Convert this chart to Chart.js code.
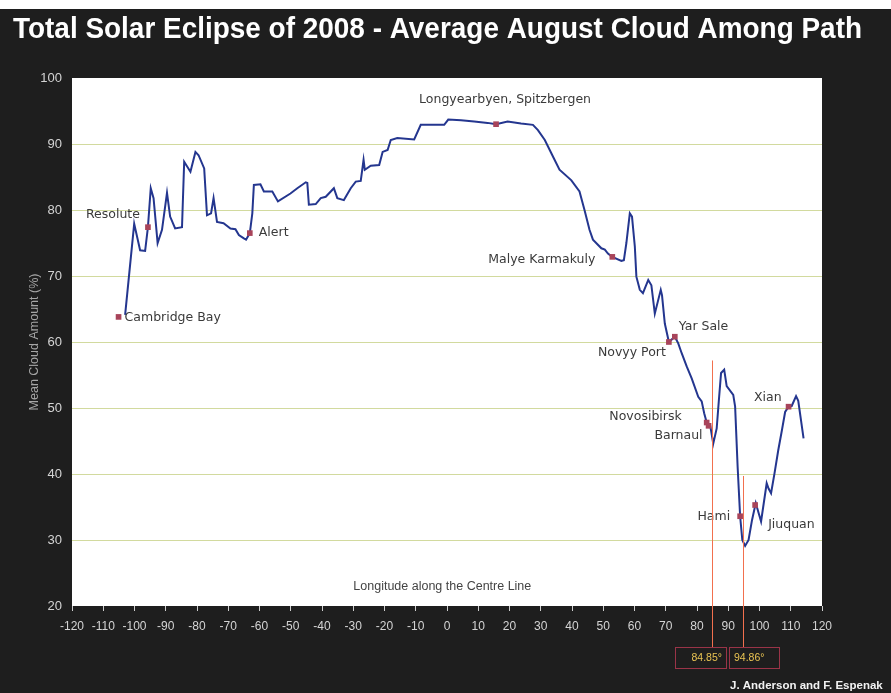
<!DOCTYPE html>
<html>
<head>
<meta charset="utf-8">
<script src="https://cdn.jsdelivr.net/npm/chart.js@4.4.1/dist/chart.umd.min.js"></script>
<style>
  html, body { margin: 0; padding: 0; background: #fff; }
  #panel { position: absolute; left: 0; top: 9px; width: 891px; height: 684px; background: #1e1e1e; }
  #c { position: absolute; left: 0; top: 0; }
</style>
</head>
<body>
<div id="panel"></div>
<canvas id="c" width="891" height="693"></canvas>
<script>
// ── Data ──────────────────────────────────────────────────────────
const lon = [
  -103.0, -100.1, -98.2, -96.6, -95.7, -94.8, -93.9, -92.6, -91.2, -89.6,
  -88.6, -87.0, -84.8, -84.1, -82.1, -80.5, -79.5, -77.7, -76.8, -75.5,
  -74.7, -73.6, -71.5, -69.3, -67.7, -66.6, -65.0, -64.3, -63.1, -62.3,
  -61.8, -59.7, -58.6, -55.9, -54.1, -50.1, -47.9, -45.2, -44.7, -44.2,
  -42.0, -40.4, -38.8, -36.2, -35.1, -33.0, -30.8, -29.2, -27.6, -26.7,
  -26.3, -24.4, -21.7, -20.6, -19.0, -18.0, -15.9, -10.5, -8.4, -0.9,
  0.4, 4.5, 8.7, 13.0, 15.7, 19.4, 23.7, 27.5, 29.1, 31.3,
  33.9, 36.0, 39.8, 42.4, 44.0, 45.6, 46.7, 49.4, 50.5, 51.5,
  52.9, 55.8, 56.6, 57.4, 58.5, 59.2, 60.1, 60.6, 61.7, 62.7,
  64.4, 65.4, 66.5, 68.4, 68.8, 69.7, 71.0, 72.9, 74.0, 75.1,
  76.7, 78.3, 80.4, 81.5, 82.3, 83.1, 84.2, 85.2, 86.3, 87.0,
  87.7, 88.7, 89.5, 91.6, 92.2, 93.0, 93.8, 94.5, 95.4, 96.5,
  97.6, 98.8, 100.5, 102.3, 102.9, 103.7, 104.8, 106.0, 107.2, 108.2,
  109.3, 110.3, 111.7, 112.4, 114.1
]
const cloud = [
  64.1, 77.9, 73.9, 73.8, 77.4, 83.3, 81.8, 75.0, 77.0, 82.6,
  79.0, 77.2, 77.4, 87.3, 85.8, 88.8, 88.3, 86.3, 79.2, 79.5,
  81.8, 78.2, 78.0, 77.2, 77.1, 76.2, 75.7, 75.5, 76.5, 79.5,
  83.8, 83.9, 82.8, 82.8, 81.3, 82.5, 83.3, 84.2, 84.1, 80.8,
  80.9, 81.8, 82.0, 83.3, 81.8, 81.5, 83.3, 84.3, 84.4, 87.6,
  86.1, 86.7, 86.8, 88.8, 89.1, 90.6, 90.9, 90.7, 92.9, 92.9,
  93.7, 93.6, 93.4, 93.2, 93.0, 93.4, 93.1, 92.9, 92.1, 90.6,
  88.1, 86.1, 84.5, 82.8, 80.0, 77.0, 75.5, 74.2, 74.0, 73.4,
  72.9, 72.3, 72.4, 75.0, 79.5, 79.0, 74.5, 69.9, 67.9, 67.4,
  69.4, 68.6, 64.3, 67.9, 67.1, 62.8, 60.0, 60.8, 59.8, 58.3,
  56.3, 54.5, 51.7, 51.0, 49.2, 47.8, 47.4, 44.6, 46.9, 51.2,
  55.3, 55.8, 53.3, 52.0, 50.2, 41.1, 33.6, 30.0, 29.1, 30.0,
  33.0, 35.6, 32.8, 38.6, 37.8, 37.1, 40.1, 43.6, 46.7, 49.4,
  50.2, 50.3, 51.8, 51.1, 45.4
]

const cityNames = ["Cambridge Bay", "Resolute", "Alert", "Longyearbyen, Spitzbergen",
  "Malye Karmakuly", "Novyy Port", "Yar Sale", "Novosibirsk", "Barnaul",
  "Hami", "Jiuquan", "Xian"]
const cityLon   = [-105.1, -95.7, -63.1, 15.7, 52.9, 71.0, 72.9, 83.1, 83.7, 93.8, 98.6, 109.3]
const cityCloud = [63.8, 77.4, 76.5, 93.0, 72.9, 60.0, 60.8, 47.8, 47.3, 33.6, 35.3, 50.2]

const totalityLon = [84.85, 94.86]
const totalityTop = [57.2, 39.7]
const totalityText = ["84.85°", "94.86°"]

const yTicks = [20, 30, 40, 50, 60, 70, 80, 90, 100]
const xTicks = [-120, -110, -100, -90, -80, -70, -60, -50, -40, -30, -20, -10,
  0, 10, 20, 30, 40, 50, 60, 70, 80, 90, 100, 110, 120]

// label placement relative to each marker: [dx, dy, align]
const labelPos = [[6, 1, "left"], [-8, -12, "right"], [9, 0, "left"], [9, -24, "center"],
  [-17, 3, "right"], [-3, 11, "right"], [4, -10, "left"], [-25, -6, "right"],
  [-6, 10, "right"], [-10, 1, "right"], [13, 20, "left"], [-7, -9, "right"]]

const TITLE = "Total Solar Eclipse of 2008 - Average August Cloud Among Path"
const CREDIT = "J. Anderson and F. Espenak"

// ── Extra drawing: plot background, labels, totality markers ───────
const decor = {
  id: "decor",
  beforeDraw(chart) {
    const { ctx, chartArea: a } = chart
    ctx.save()
    ctx.fillStyle = "#ffffff"
    ctx.fillRect(a.left, a.top, a.right - a.left, a.bottom - a.top)
    ctx.restore()
  },
  afterDatasetsDraw(chart) {
    const { ctx, chartArea: a, scales: { x, y } } = chart
    ctx.save()
    ctx.font = '12.5px "Comic Sans MS", "DejaVu Sans", sans-serif'
    ctx.fillStyle = "#3a3a3a"
    ctx.textBaseline = "middle"
    cityNames.forEach((n, i) => {
      const [dx, dy, al] = labelPos[i]
      ctx.textAlign = al
      ctx.fillText(n, x.getPixelForValue(cityLon[i]) + dx, y.getPixelForValue(cityCloud[i]) + dy)
    })

    ctx.font = '12.5px "Liberation Sans", Arial, sans-serif'
    ctx.fillStyle = "#444"
    ctx.textAlign = "center"
    ctx.fillText("Longitude along the Centre Line", x.getPixelForValue(-1.5), a.bottom - 19)

    // totality lines run from the curve down past the axis into boxes
    const boxTop = a.bottom + 41
    ctx.strokeStyle = "#f2704e"
    ctx.lineWidth = 1
    totalityLon.forEach((v, i) => {
      const px = Math.round(x.getPixelForValue(v)) + 0.5
      ctx.beginPath()
      ctx.moveTo(px, y.getPixelForValue(totalityTop[i]))
      ctx.lineTo(px, boxTop)
      ctx.stroke()
    })
    ctx.restore()
  },
  afterDraw(chart) {
    const { ctx, chartArea: a } = chart
    ctx.save()
    ctx.fillStyle = "#ffffff"
    ctx.font = 'bold 29px "Liberation Sans", Arial, sans-serif'
    ctx.textAlign = "left"
    ctx.textBaseline = "alphabetic"
    ctx.fillText(TITLE, 13, 38, 849)

    const boxTop = a.bottom + 41
    const boxes = [[675, 51, "right"], [729, 50, "left"]]
    ctx.strokeStyle = "#9a3448"
    ctx.lineWidth = 1
    ctx.font = '10.5px "Liberation Sans", Arial, sans-serif'
    ctx.fillStyle = "#e9c352"
    ctx.textBaseline = "middle"
    boxes.forEach(([bx, bw, al], i) => {
      ctx.strokeRect(bx + 0.5, boxTop + 0.5, bw, 21)
      ctx.textAlign = al
      ctx.fillText(totalityText[i], al === "right" ? bx + bw - 4 : bx + 5, boxTop + 11)
    })

    ctx.font = 'bold 11.5px "Liberation Sans", Arial, sans-serif'
    ctx.fillStyle = "#f2f2f2"
    ctx.textAlign = "left"
    ctx.textBaseline = "alphabetic"
    ctx.fillText(CREDIT, 730, 689)
    ctx.restore()
  }
}

const tickFont = { family: '"Liberation Sans Narrow", "Arial Narrow", "Liberation Sans", Arial, sans-serif', size: 12 }

new Chart(document.getElementById("c"), {
  type: "line",
  data: {
    datasets: [{
      label: "Mean cloud",
      data: lon.map((v, i) => ({ x: v, y: cloud[i] })),
      borderColor: "#24368f",
      borderWidth: 2,
      pointRadius: 0,
      tension: 0,
      order: 2
    }, {
      type: "scatter",
      label: "Stations",
      data: cityLon.map((v, i) => ({ x: v, y: cityCloud[i] })),
      pointStyle: "rect",
      pointRadius: 4,
      backgroundColor: "#a8445a",
      borderWidth: 0,
      order: 1
    }]
  },
  options: {
    responsive: false,
    animation: false,
    events: [],
    layout: { padding: { top: 78, right: 69, left: 0, bottom: 0 } },
    plugins: {
      legend: { display: false },
      tooltip: { enabled: false }
    },
    scales: {
      x: {
        type: "linear",
        min: -120,
        max: 120,
        afterBuildTicks: s => { s.ticks = xTicks.map(v => ({ value: v })) },
        afterFit: s => { s.height = 87 },
        ticks: { color: "#d4d4d4", font: tickFont, padding: 8, maxRotation: 0, autoSkip: false },
        grid: { drawOnChartArea: false, drawTicks: true, tickLength: 5, tickColor: "#cfcfcf" },
        border: { display: false }
      },
      y: {
        min: 20,
        max: 100,
        afterBuildTicks: s => { s.ticks = yTicks.map(v => ({ value: v })) },
        afterFit: s => { s.width = 72 },
        ticks: { color: "#d4d4d4", font: { ...tickFont, size: 13 }, padding: 10 },
        grid: {
          drawTicks: false,
          color: c => (c.tick && (c.tick.value === 20 || c.tick.value === 100)) ? "rgba(0,0,0,0)" : "#d2da9e"
        },
        border: { display: false },
        title: {
          display: true,
          text: "Mean Cloud Amount (%)",
          color: "#a6a6a6",
          font: { family: '"Liberation Sans", Arial, sans-serif', size: 12.5 },
          padding: { top: 27, bottom: 0 }
        }
      }
    }
  },
  plugins: [decor]
})
</script>
</body>
</html>
